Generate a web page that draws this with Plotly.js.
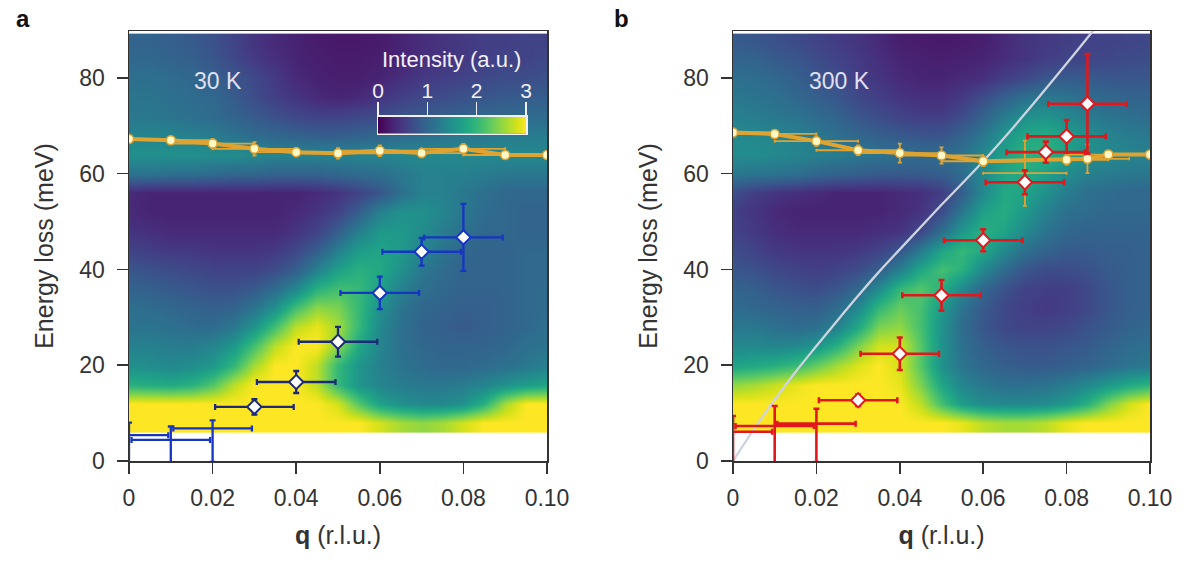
<!DOCTYPE html>
<html>
<head>
<meta charset="utf-8">
<script src="https://cdn.plot.ly/plotly-3.0.1.min.js"></script>
<style>html,body{margin:0;padding:0;background:#fff;}#chart{width:1200px;height:565px;}</style>
</head>
<body>
<div id="chart"></div>
<script>
// ---- grid of the intensity maps ----
const qCols = [0,0.005,0.01,0.015,0.02,0.025,0.03,0.035,0.04,0.045,0.05,0.055,0.06,0.065,0.07,0.075,0.08,0.085,0.09,0.095,0.1];
const eRows = [8,12,16,20,24,28,32,36,40,44,48,52,56,60,64,68,72,76,80,84,87.5];

// panel a, 30 K (rows bottom -> top)
const z30K = [
 [3,3,3,3,3,3,3,3,3,3,3,3,2.8,2.6,2.5,2.6,2.8,3,3,3,3],
 [3,3,3,3,3,3,3,3,3,3,2.8,2.2,1.7,1.5,1.4,1.4,1.5,1.9,2.6,3,3],
 [1.9,1.85,1.8,1.9,2.2,2.7,3,3,3,2.7,2.0,1.55,1.35,1.25,1.2,1.2,1.25,1.35,1.5,1.65,1.75],
 [1.5,1.45,1.4,1.45,1.6,2.0,2.6,3,3,2.7,2.0,1.55,1.3,1.15,1.05,1.0,1.0,1.05,1.1,1.2,1.3],
 [1.3,1.3,1.25,1.25,1.35,1.6,2.1,2.7,3,3,2.5,1.8,1.35,1.1,1.0,0.95,0.95,0.95,1.0,1.1,1.15],
 [1.15,1.15,1.1,1.05,1.05,1.2,1.55,2.1,2.7,2.9,2.6,2.0,1.4,1.1,0.95,0.9,0.85,0.9,0.95,1.0,1.1],
 [1.1,1.05,1.0,0.95,0.9,0.95,1.15,1.5,2.1,2.5,2.4,2.0,1.5,1.15,1.0,0.95,0.9,0.9,0.95,1.0,1.05],
 [0.95,0.9,0.85,0.8,0.75,0.75,0.85,1.05,1.4,1.9,2.1,2.0,1.7,1.3,1.1,1.0,0.95,0.95,0.95,1.0,1.05],
 [0.8,0.75,0.7,0.65,0.6,0.6,0.6,0.7,0.9,1.3,1.7,1.9,1.8,1.5,1.2,1.05,0.95,0.95,0.95,1.0,1.0],
 [0.6,0.55,0.5,0.5,0.45,0.45,0.45,0.5,0.65,0.9,1.3,1.65,1.75,1.6,1.35,1.15,1.0,0.95,0.95,1.0,1.0],
 [0.45,0.4,0.35,0.35,0.35,0.35,0.35,0.35,0.45,0.6,0.9,1.3,1.6,1.6,1.45,1.25,1.1,1.0,1.0,0.95,0.95],
 [0.35,0.3,0.3,0.3,0.3,0.3,0.3,0.3,0.35,0.45,0.6,0.9,1.3,1.5,1.5,1.35,1.2,1.05,1.0,0.95,0.95],
 [0.35,0.3,0.3,0.3,0.3,0.3,0.3,0.3,0.3,0.35,0.45,0.6,0.8,1.1,1.3,1.3,1.2,1.1,1.0,1.0,1.0],
 [1.15,1.15,1.1,1.1,1.05,1.0,1.0,0.95,0.95,0.95,1.0,1.05,1.1,1.2,1.3,1.3,1.3,1.25,1.2,1.2,1.2],
 [1.5,1.5,1.5,1.5,1.45,1.45,1.4,1.35,1.35,1.35,1.35,1.35,1.35,1.4,1.4,1.4,1.4,1.4,1.4,1.4,1.4],
 [1.35,1.35,1.35,1.3,1.25,1.15,1.05,1.0,0.95,0.9,0.9,0.95,1.0,1.05,1.1,1.15,1.2,1.2,1.25,1.25,1.25],
 [1.2,1.2,1.15,1.1,1.05,0.95,0.85,0.75,0.65,0.6,0.6,0.65,0.7,0.8,0.85,0.9,0.95,1.0,1.0,1.05,1.05],
 [1.15,1.15,1.1,1.05,1.0,0.85,0.7,0.55,0.45,0.35,0.3,0.35,0.45,0.55,0.65,0.7,0.75,0.8,0.85,0.85,0.9],
 [1.1,1.1,1.05,1.0,0.9,0.8,0.65,0.5,0.35,0.28,0.25,0.25,0.3,0.4,0.5,0.55,0.6,0.65,0.7,0.7,0.75],
 [1.0,1.0,0.95,0.9,0.8,0.65,0.5,0.4,0.3,0.25,0.22,0.22,0.25,0.3,0.4,0.45,0.5,0.55,0.6,0.6,0.65],
 [0.95,0.95,0.9,0.85,0.75,0.6,0.45,0.35,0.28,0.22,0.2,0.2,0.22,0.3,0.38,0.45,0.5,0.55,0.55,0.6,0.6]
];

// panel b, 300 K (rows bottom -> top)
const z300K = [
 [3,3,3,3,3,3,3,3,3,3,3,2.9,2.7,2.6,2.6,2.7,2.9,3,3,3,3],
 [3,3,3,3,3,3,3,3,3,2.7,2.1,1.65,1.45,1.4,1.4,1.45,1.6,1.9,2.4,2.8,3],
 [2.5,2.6,2.75,2.9,3,3,3,3,2.9,2.4,1.75,1.35,1.2,1.1,1.1,1.15,1.25,1.4,1.6,1.8,1.95],
 [1.75,1.8,1.9,2.05,2.3,2.6,2.85,3,2.8,2.2,1.5,1.15,1.0,0.9,0.85,0.85,0.9,0.95,1.05,1.15,1.2],
 [1.4,1.4,1.35,1.4,1.55,1.9,2.4,2.8,2.8,2.2,1.5,1.1,0.9,0.8,0.75,0.75,0.8,0.85,0.95,1.05,1.1],
 [1.2,1.2,1.1,1.05,1.1,1.3,1.8,2.4,2.5,2.1,1.5,1.05,0.8,0.65,0.6,0.6,0.65,0.75,0.85,0.95,1.0],
 [1.05,1.0,0.95,0.9,0.9,1.05,1.4,2.0,2.3,2.1,1.6,1.15,0.85,0.65,0.55,0.5,0.55,0.65,0.8,0.9,0.95],
 [0.95,0.9,0.8,0.75,0.7,0.8,1.0,1.45,2.0,2.2,1.9,1.4,1.0,0.75,0.6,0.55,0.55,0.65,0.8,0.9,0.95],
 [0.8,0.75,0.65,0.6,0.55,0.6,0.7,0.9,1.3,1.8,2.1,1.9,1.4,1.05,0.8,0.7,0.7,0.75,0.85,0.9,0.95],
 [0.7,0.6,0.5,0.45,0.45,0.45,0.5,0.6,0.8,1.25,1.75,2.0,1.8,1.4,1.1,0.95,0.85,0.85,0.9,0.9,0.95],
 [0.6,0.5,0.4,0.35,0.35,0.35,0.35,0.4,0.45,0.65,1.1,1.6,1.9,1.75,1.4,1.15,1.0,0.95,0.95,0.95,0.95],
 [0.55,0.45,0.35,0.3,0.3,0.3,0.3,0.3,0.35,0.45,0.7,1.2,1.7,1.85,1.6,1.3,1.1,1.05,1.0,1.0,1.0],
 [0.7,0.55,0.45,0.4,0.35,0.3,0.3,0.3,0.35,0.4,0.55,0.9,1.4,1.8,1.75,1.5,1.25,1.1,1.05,1.0,1.0],
 [1.2,1.15,1.15,1.1,1.0,0.95,0.9,0.85,0.85,0.85,0.9,1.05,1.4,1.75,1.85,1.7,1.45,1.3,1.25,1.2,1.2],
 [1.45,1.45,1.4,1.35,1.3,1.25,1.2,1.15,1.1,1.05,1.05,1.15,1.4,1.7,1.9,1.9,1.7,1.5,1.4,1.35,1.3],
 [1.4,1.4,1.35,1.3,1.2,1.1,1.0,0.9,0.85,0.8,0.8,0.95,1.2,1.55,1.8,1.85,1.7,1.5,1.35,1.25,1.2],
 [1.3,1.25,1.2,1.15,1.05,0.95,0.8,0.7,0.6,0.55,0.55,0.7,0.95,1.25,1.5,1.55,1.4,1.25,1.15,1.1,1.05],
 [1.2,1.15,1.1,1.0,0.9,0.8,0.65,0.55,0.45,0.4,0.4,0.5,0.7,0.9,1.1,1.2,1.15,1.05,1.0,0.95,0.95],
 [1.1,1.05,1.0,0.9,0.8,0.7,0.55,0.45,0.35,0.3,0.3,0.35,0.4,0.55,0.65,0.8,0.85,0.85,0.8,0.8,0.8],
 [0.95,0.95,0.85,0.8,0.7,0.6,0.5,0.4,0.3,0.27,0.25,0.27,0.3,0.38,0.45,0.55,0.6,0.62,0.65,0.68,0.7],
 [0.85,0.82,0.75,0.68,0.6,0.52,0.45,0.35,0.25,0.22,0.2,0.22,0.25,0.35,0.45,0.5,0.55,0.58,0.6,0.62,0.65]
];

// colour bar inset values
const cbVals = [0,0.25,0.5,0.75,1,1.25,1.5,1.75,2,2.25,2.5,2.75,3];
const cbTicks = [0,1,2,3];

// ---- orange mode (both panels) ----
const qOrA = [0,0.01,0.02,0.03,0.04,0.05,0.06,0.07,0.08,0.09,0.10];
const eOrA = [67.25,67.0,66.3,65.2,64.5,64.25,64.8,64.3,65.2,63.9,63.9];
const dEOrA = [0.8,0.8,0.9,1.4,0.9,1.1,1.1,0.9,1.0,0.8,0.8];

const qOrB = [0,0.01,0.02,0.03,0.04,0.05,0.06,0.08,0.085,0.09,0.10];
const eOrB = [68.6,68.3,66.8,64.9,64.3,63.8,62.6,62.9,63.1,64.0,64.0];
const dEOrB = [0.8,0.8,1.0,1.0,2.0,1.7,1.0,1.0,3.0,0.8,0.8];
const qOrBx = [0.07];
const eOrBx = [60.1];
const dEOrBx = [6.8];
const dqOr = 0.01;

// ---- blue dispersion, 30 K ----
const qBlueLow = [0,0.01,0.02];
const eBlueLow = [5.4,4.4,6.8];
const dEBlueLowUp = [2.6,2.8,1.7];
const dEBlueLowDn = [6,5,7];
const qBlue = [0.03,0.04,0.05,0.06,0.07,0.08];
const eBlue = [11.3,16.5,24.9,35.1,43.7,46.7];
const dEBlue = [1.6,2.3,3.1,3.4,2.9,7.0];
const dqBlue = 0.0094;

// ---- red dispersion, 300 K ----
const qRedLow = [0,0.01,0.02];
const eRedLow = [6.1,7.3,7.8];
const dERedLowUp = [3.3,4.2,3.1];
const dERedLowDn = [7,8,8];
const qRed = [0.03,0.04,0.05,0.06,0.07,0.075,0.08,0.085];
const eRed = [12.7,22.4,34.6,46.1,58.2,64.5,67.8,74.6];
const dERed = [1.2,3.4,3.2,2.3,2.5,2.2,3.4,10.4];
const dqRed = 0.0094;

// ---- grey line, 300 K ----
const qGrey = [0,0.003,0.006,0.01,0.015,0.02,0.025,0.03,0.035,0.04,0.05,0.06,0.07,0.08,0.0865];
const eGrey = [0,4,7.9,12.8,18.6,24.0,29.3,34.5,39.5,44.2,53.5,62.6,72.5,83.0,90];

const xTicks = [0,0.02,0.04,0.06,0.08,0.10];
const xTickText = ['0','0.02','0.04','0.06','0.08','0.10'];
const yTicks = [0,20,40,60,80];

// ---- styles ----
const FONT = 'Liberation Sans, Arial, sans-serif';
const ORANGE = '#dfa332';
const BLUE = '#1636c2';
const BLUE_DARK = '#1c2a78';
const RED = '#e0181c';

function orangeTrace(q, e, de, xa, ya, withLine, showMarker) {
  return {
    type: 'scatter', x: q, y: e, xaxis: xa, yaxis: ya,
    mode: withLine ? 'lines+markers' : 'markers',
    line: {color: ORANGE, width: 4},
    marker: showMarker ? {symbol: 'circle', size: 9, color: '#fff8c6', line: {color: ORANGE, width: 1.5}}
                       : {size: 1, color: 'rgba(0,0,0,0)'},
    error_x: {type: 'constant', value: dqOr, color: ORANGE, thickness: 1.8, width: 1.5},
    error_y: {type: 'data', array: de, color: ORANGE, thickness: 1.8, width: 2},
    hoverinfo: 'skip', showlegend: false
  };
}
function dispTrace(q, e, up, dn, dq, col, xa, ya, showMarker, thick) {
  const ey = dn ? {type: 'data', symmetric: false, array: up, arrayminus: dn, color: col, thickness: thick, width: 3}
                : {type: 'data', array: up, color: col, thickness: thick, width: 3};
  return {
    type: 'scatter', x: q, y: e, xaxis: xa, yaxis: ya, mode: 'markers',
    marker: showMarker ? {symbol: 'diamond', size: 11, color: '#ffffff', line: {color: col, width: 2}}
                       : {size: 1, color: 'rgba(0,0,0,0)'},
    error_x: {type: 'constant', value: dq, color: col, thickness: thick, width: 3},
    error_y: ey,
    hoverinfo: 'skip', showlegend: false
  };
}
function heat(z, xa, ya) {
  return {type: 'heatmap', x: qCols, y: eRows, z: z, xaxis: xa, yaxis: ya,
          colorscale: 'Viridis', zmin: 0, zmax: 3, zsmooth: 'best', showscale: false, hoverinfo: 'skip'};
}

const traces = [
  heat(z30K, 'x', 'y'),
  orangeTrace(qOrA, eOrA, dEOrA, 'x', 'y', true, true),
  dispTrace(qBlueLow, eBlueLow, dEBlueLowUp, dEBlueLowDn, dqBlue, BLUE, 'x', 'y', false, 2.3),
  dispTrace(qBlue.slice(0,3), eBlue.slice(0,3), dEBlue.slice(0,3), null, dqBlue, BLUE_DARK, 'x', 'y', true, 2.3),
  dispTrace(qBlue.slice(3), eBlue.slice(3), dEBlue.slice(3), null, dqBlue, BLUE, 'x', 'y', true, 2.3),
  {type: 'heatmap', x: cbVals, y: [0,1], z: [cbVals, cbVals], xaxis: 'x3', yaxis: 'y3',
   colorscale: 'Viridis', zmin: 0, zmax: 3, zsmooth: 'best', showscale: false, hoverinfo: 'skip'},
  heat(z300K, 'x2', 'y2'),
  {type: 'scatter', x: qGrey, y: eGrey, xaxis: 'x2', yaxis: 'y2', mode: 'lines',
   line: {color: '#cdd3e0', width: 2.3, shape: 'spline'}, hoverinfo: 'skip', showlegend: false},
  orangeTrace(qOrBx, eOrBx, dEOrBx, 'x2', 'y2', false, false),
  orangeTrace(qOrB, eOrB, dEOrB, 'x2', 'y2', true, true),
  dispTrace(qRedLow, eRedLow, dERedLowUp, dERedLowDn, dqRed, RED, 'x2', 'y2', false, 2.6),
  dispTrace(qRed, eRed, dERed, null, dqRed, RED, 'x2', 'y2', true, 2.6)
];

function xAxis(domain, anchor) {
  return {domain: domain, anchor: anchor, range: [0, 0.1], tickvals: xTicks, ticktext: xTickText,
    ticks: 'outside', ticklen: 11, tickwidth: 1.5, tickcolor: '#333', ticklabelstandoff: 5,
    showline: true, mirror: true, linecolor: '#333', linewidth: 1.5, showgrid: false, zeroline: false,
    tickfont: {family: FONT, size: 23, color: '#333'},
    title: {text: '<b>q</b> (r.l.u.)', font: {family: FONT, size: 25, color: '#333'}, standoff: 16}};
}
function yAxis(domain, anchor) {
  return {domain: domain, anchor: anchor, range: [0, 89.8], tickvals: yTicks,
    ticks: 'outside', ticklen: 11, tickwidth: 1.5, tickcolor: '#333', ticklabelstandoff: 7,
    showline: true, mirror: true, linecolor: '#333', linewidth: 1.5, showgrid: false, zeroline: false,
    tickfont: {family: FONT, size: 23, color: '#333'},
    title: {text: 'Energy loss (meV)', font: {family: FONT, size: 25, color: '#333'}, standoff: 18}};
}

const yDom = [1 - 461/565, 1 - 31/565];
const layout = {
  width: 1200, height: 565, margin: {l: 0, r: 0, t: 0, b: 0},
  paper_bgcolor: '#ffffff', plot_bgcolor: '#ffffff', showlegend: false,
  font: {family: FONT, color: '#333'},
  xaxis: xAxis([129/1200, 547/1200], 'y'),
  yaxis: yAxis(yDom, 'x'),
  xaxis2: xAxis([733/1200, 1150/1200], 'y2'),
  yaxis2: yAxis(yDom, 'x2'),
  xaxis3: {domain: [378/1200, 526/1200], anchor: 'y3', side: 'top', range: [0, 3], tickvals: cbTicks,
    ticks: 'outside', ticklen: 13, tickwidth: 1.5, tickcolor: '#f2f0fa', ticklabelstandoff: -4,
    showline: true, mirror: true, linecolor: '#f2f0fa', linewidth: 1.5, showgrid: false, zeroline: false,
    tickfont: {family: FONT, size: 21, color: '#f2f0fa'}},
  yaxis3: {domain: [1 - 133.5/565, 1 - 116.5/565], anchor: 'x3', range: [0, 1], showticklabels: false, ticks: '',
    showline: true, mirror: true, linecolor: '#f2f0fa', linewidth: 1.5, showgrid: false, zeroline: false},
  annotations: [
    {text: '<b>a</b>', xref: 'paper', yref: 'paper', x: 14/1200, y: 1 - 18/565, xanchor: 'left', yanchor: 'middle',
     showarrow: false, font: {family: FONT, size: 24, color: '#111'}},
    {text: '<b>b</b>', xref: 'paper', yref: 'paper', x: 612/1200, y: 1 - 18/565, xanchor: 'left', yanchor: 'middle',
     showarrow: false, font: {family: FONT, size: 24, color: '#111'}},
    {text: '30 K', xref: 'x', yref: 'y', x: 0.0214, y: 79.3, showarrow: false,
     font: {family: FONT, size: 23, color: '#e2e0f2'}},
    {text: '300 K', xref: 'x2', yref: 'y2', x: 0.0256, y: 79.3, showarrow: false,
     font: {family: FONT, size: 23, color: '#e2e0f2'}},
    {text: 'Intensity (a.u.)', xref: 'paper', yref: 'paper', x: 451/1200, y: 1 - 60/565, showarrow: false,
     xanchor: 'center', yanchor: 'middle', font: {family: FONT, size: 22, color: '#f2f0fa'}}
  ]
};

Plotly.newPlot('chart', traces, layout, {staticPlot: true, displayModeBar: false});
</script>
</body>
</html>
